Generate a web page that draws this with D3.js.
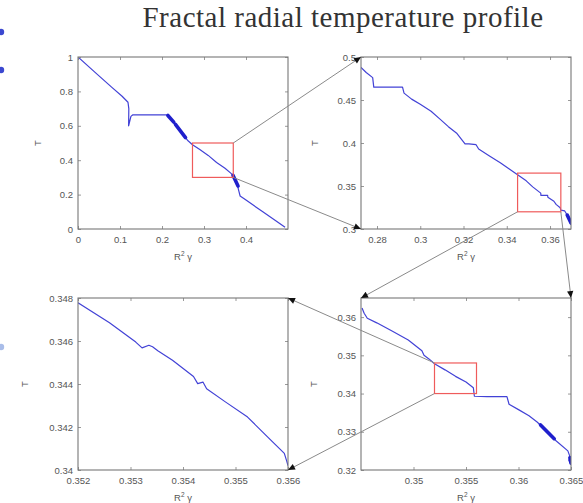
<!DOCTYPE html>
<html>
<head>
<meta charset="utf-8">
<script src="https://cdn.jsdelivr.net/npm/d3@7"></script>
<style>
  body { margin: 0; background: #fff; }
  svg { display: block; }
  .tick text { font-family: "Liberation Sans", Arial, sans-serif; font-size: 9.5px; fill: #555; }
  .tick line { stroke: #999; }
  .lbl { font-family: "Liberation Sans", Arial, sans-serif; font-size: 9.5px; fill: #555; }
</style>
</head>
<body>
<svg id="chart" width="583" height="503"></svg>
<script>

const title = "Fractal radial temperature profile";

// whole profile, T against R^2 gamma
const profile0 = [
  [0,1],[0.04,0.912],[0.08,0.825],[0.105,0.772],[0.119,0.737],[0.121,0.70],[0.1205,0.60],
  [0.123,0.625],[0.126,0.655],[0.13,0.663],[0.17,0.663],[0.213,0.663],
  [0.225,0.630],[0.236,0.596],[0.245,0.565],[0.253,0.540],[0.262,0.513],[0.2726,0.490],
  [0.29,0.462],[0.31,0.428],[0.33,0.387],[0.35,0.353],[0.3637,0.325],[0.368,0.315],
  [0.374,0.290],[0.380,0.250],[0.383,0.22],[0.386,0.192],
  [0.40,0.168],[0.44,0.100],[0.47,0.050],[0.493,0.01]
];
// stretches where the profile oscillates too fast to resolve (drawn thick)
const bursts0 = [
  [[0.214,0.660],[0.228,0.621]],
  [[0.232,0.608],[0.256,0.531]],
  [[0.369,0.312],[0.381,0.250]]
];

// first zoom (top right)
const profile1 = [
  [0.2726,0.488],[0.275,0.482],[0.278,0.476],[0.2785,0.465],[0.285,0.465],[0.2918,0.465],
  [0.2925,0.458],[0.296,0.451],[0.30,0.445],[0.305,0.437],[0.309,0.428],[0.313,0.419],
  [0.317,0.411],[0.3207,0.399],[0.3225,0.399],[0.3258,0.398],[0.327,0.393],[0.332,0.385],
  [0.337,0.377],[0.341,0.370],[0.345,0.363],[0.349,0.356],[0.352,0.349],[0.3557,0.3417],
  [0.3558,0.339],[0.3589,0.339],[0.359,0.337],[0.3618,0.3323],[0.3628,0.3286],
  [0.3647,0.3247],[0.365,0.322],[0.3668,0.321],[0.3675,0.318],[0.3697,0.305]
];
const bursts1 = [
  [[0.3680,0.316],[0.3697,0.307]]
];

// second zoom (bottom right)
const profile2 = [
  [0.3451,0.3624],[0.3453,0.3610],[0.3456,0.3597],[0.3465,0.3585],[0.348,0.3563],
  [0.3495,0.3540],[0.3508,0.3512],[0.351,0.3500],[0.3515,0.3490],[0.352,0.3478],
  [0.353,0.3462],[0.354,0.3445],[0.355,0.3430],[0.3557,0.3415],[0.3558,0.3393],
  [0.357,0.3392],[0.3589,0.3392],[0.3591,0.3372],[0.3600,0.3358],[0.361,0.3342],
  [0.3618,0.3325],[0.3636,0.3276],[0.3647,0.3250],[0.3649,0.3235],
  [0.3648,0.3225],[0.3650,0.3215]
];
const bursts2 = [
  [[0.3621,0.3318],[0.3634,0.3282]],
  [[0.3649,0.3232],[0.3650,0.3218]]
];

// third zoom (bottom left)
const profile3 = [
  [0.352,0.34778],[0.3526,0.34685],[0.3531,0.34595],[0.35322,0.34568],[0.35335,0.34580],
  [0.35342,0.34573],[0.35352,0.34555],[0.3538,0.3451],[0.3542,0.34435],[0.35428,0.34402],
  [0.35438,0.34409],[0.35445,0.34378],[0.3548,0.34318],[0.35523,0.34246],[0.35561,0.34154],
  [0.35593,0.34077],[0.35598,0.34038],[0.356,0.3402]
];
const bursts3 = [];

const xDomains = [[0,0.5],[0.2726,0.3697],[0.345,0.365],[0.352,0.356]];
const yDomains = [[0,1],[0.3,0.5],[0.32,0.365],[0.34,0.348]];
const xTicks = [[0,0.1,0.2,0.3,0.4],[0.28,0.30,0.32,0.34,0.36],[0.35,0.355,0.36,0.365],[0.352,0.353,0.354,0.355,0.356]];
const yTicks = [[0,0.2,0.4,0.6,0.8,1],[0.3,0.35,0.4,0.45,0.5],[0.32,0.33,0.34,0.35,0.36],[0.34,0.342,0.344,0.346,0.348]];

const levels = [profile0, profile1, profile2, profile3];
const bursts = [bursts0, bursts1, bursts2, bursts3];

// layout
const W = 210, H = 172;
const origins = [[78,57],[361,57],[361,298],[78,298]];
const yLabelGap = [37, 43, 44, 50];
// which corners the zoom lines join: [box corner, next panel corner]
const links = [[["tr","tl"],["br","bl"]], [["bl","tl"],["br","tr"]], [["tl","tr"],["bl","br"]]];

const fmt = d => String(+d.toFixed(4));
const blue = "#4242d6";

const svg = d3.select("#chart");

svg.append("defs").append("marker")
  .attr("id", "arr")
  .attr("viewBox", "0 0 10 10")
  .attr("refX", 10).attr("refY", 5)
  .attr("markerUnits", "userSpaceOnUse")
  .attr("markerWidth", 9).attr("markerHeight", 7)
  .attr("orient", "auto")
  .append("path").attr("d", "M0,0.5L10,5L0,9.5Z").attr("fill", "#111");

svg.append("text")
  .attr("x", 343).attr("y", 27)
  .attr("text-anchor", "middle")
  .style("font-family", "'Liberation Serif', 'Times New Roman', serif")
  .style("font-size", "29px")
  .style("letter-spacing", "0.5px")
  .attr("fill", "#333")
  .text(title);

// slide bullets cut at the left edge
svg.selectAll(".bullet")
  .data([[32,"#3b48d0"],[70,"#3b48d0"],[347,"#a9bde9"]])
  .enter().append("circle")
  .attr("cx", 1).attr("cy", d => d[0]).attr("r", 3.2)
  .attr("fill", d => d[1]);

let scales = levels.map((d,i) => ({
  x: d3.scaleLinear().domain(xDomains[i]).range([origins[i][0], origins[i][0]+W]),
  y: d3.scaleLinear().domain(yDomains[i]).range([origins[i][1]+H, origins[i][1]])
}));

let line = (s) => d3.line().x(d => s.x(d[0])).y(d => s.y(d[1]));

levels.forEach((data, i) => {
  let s = scales[i];
  let [ox, oy] = origins[i];
  let g = svg.append("g");

  g.append("clipPath").attr("id", "clip"+i)
    .append("rect").attr("x", ox).attr("y", oy).attr("width", W).attr("height", H);

  g.append("path")
    .datum(data)
    .attr("clip-path", "url(#clip"+i+")")
    .attr("fill", "none")
    .attr("stroke", blue)
    .attr("stroke-width", 1.2)
    .attr("stroke-linejoin", "round")
    .attr("d", line(s));

  g.selectAll(".burst")
    .data(bursts[i])
    .enter().append("path")
    .attr("clip-path", "url(#clip"+i+")")
    .attr("fill", "none")
    .attr("stroke", "#1f1fcc")
    .attr("stroke-width", 3.6)
    .attr("stroke-linecap", "round")
    .attr("d", line(s));

  // zoom box
  if (i < 3) {
    let bx = xDomains[i+1], by = yDomains[i+1];
    g.append("rect")
      .attr("x", s.x(bx[0])).attr("y", s.y(by[1]))
      .attr("width", s.x(bx[1]) - s.x(bx[0]))
      .attr("height", s.y(by[0]) - s.y(by[1]))
      .attr("fill", "none")
      .attr("stroke", "#ef5b5b")
      .attr("stroke-width", 1.2);
  }

  g.append("g").attr("transform", "translate(0," + (oy+H) + ")")
    .call(d3.axisBottom(s.x).tickValues(xTicks[i]).tickSize(-3).tickPadding(7).tickFormat(fmt))
    .call(a => a.select(".domain").remove());
  g.append("g").attr("transform", "translate(0," + oy + ")")
    .call(d3.axisTop(s.x).tickValues(xTicks[i]).tickSize(-3).tickFormat(""))
    .call(a => a.select(".domain").remove());
  g.append("g").attr("transform", "translate(" + ox + ",0)")
    .call(d3.axisLeft(s.y).tickValues(yTicks[i]).tickSize(-3).tickPadding(5).tickFormat(fmt))
    .call(a => a.select(".domain").remove());
  g.append("g").attr("transform", "translate(" + (ox+W) + ",0)")
    .call(d3.axisRight(s.y).tickValues(yTicks[i]).tickSize(-3).tickFormat(""))
    .call(a => a.select(".domain").remove());

  g.append("rect")
    .attr("x", ox).attr("y", oy).attr("width", W).attr("height", H)
    .attr("fill", "none").attr("stroke", "#777").attr("stroke-width", 1.1);

  let xl = g.append("text").attr("class", "lbl")
    .attr("x", ox + W/2).attr("y", oy + H + 31)
    .attr("text-anchor", "middle");
  xl.append("tspan").text("R");
  xl.append("tspan").attr("dy", -4).style("font-size", "6.5px").text("2");
  xl.append("tspan").attr("dy", 4).text(" γ");

  g.append("text").attr("class", "lbl")
    .attr("transform", "translate(" + (ox - yLabelGap[i]) + "," + (oy + H/2) + ")rotate(-90)")
    .attr("text-anchor", "middle")
    .text("T");
});

// zoom connectors
function corner(i, c, box) {
  let s = scales[i];
  let xd = box ? xDomains[i+1] : xDomains[i];
  let yd = box ? yDomains[i+1] : yDomains[i];
  return [s.x(c[1] == "l" ? xd[0] : xd[1]), s.y(c[0] == "t" ? yd[1] : yd[0])];
}

links.forEach((pair, i) => {
  pair.forEach(p => {
    let a = corner(i, p[0], true);
    let b = corner(i+1, p[1], false);
    svg.append("line")
      .attr("x1", a[0]).attr("y1", a[1])
      .attr("x2", b[0]).attr("y2", b[1])
      .attr("stroke", "#8a8a8a")
      .attr("stroke-width", 1)
      .attr("marker-end", "url(#arr)");
  });
});

</script>
</body>
</html>
